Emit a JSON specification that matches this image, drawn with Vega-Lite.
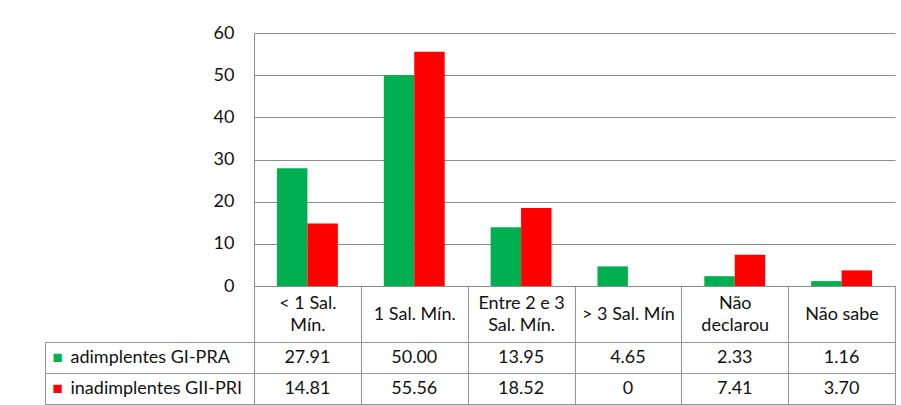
{
  "$schema": "https://vega.github.io/schema/vega-lite/v6.json",
  "background": "white",
  "padding": {"left": 44, "top": 24, "right": 6, "bottom": 0},
  "bounds": "flush",
  "spacing": 56,
  "config": {
    "font": "Lato",
    "view": {"stroke": null},
    "axis": {"labelFont": "Lato", "labelColor": "#111111", "labelFontSize": 18, "titleFont": "Lato"}
  },
  "resolve": {"scale": {"x": "independent", "y": "independent"}},
  "data": {
    "values": [
      {"cat": "< 1 Sal. Mín.", "serie": "adimplentes GI-PRA", "value": 27.91, "txt": "27.91"},
      {"cat": "1 Sal. Mín.", "serie": "adimplentes GI-PRA", "value": 50.0, "txt": "50.00"},
      {"cat": "Entre 2 e 3 Sal. Mín.", "serie": "adimplentes GI-PRA", "value": 13.95, "txt": "13.95"},
      {"cat": "> 3 Sal. Mín", "serie": "adimplentes GI-PRA", "value": 4.65, "txt": "4.65"},
      {"cat": "Não declarou", "serie": "adimplentes GI-PRA", "value": 2.33, "txt": "2.33"},
      {"cat": "Não sabe", "serie": "adimplentes GI-PRA", "value": 1.16, "txt": "1.16"},
      {"cat": "< 1 Sal. Mín.", "serie": "inadimplentes GII-PRI", "value": 14.81, "txt": "14.81"},
      {"cat": "1 Sal. Mín.", "serie": "inadimplentes GII-PRI", "value": 55.56, "txt": "55.56"},
      {"cat": "Entre 2 e 3 Sal. Mín.", "serie": "inadimplentes GII-PRI", "value": 18.52, "txt": "18.52"},
      {"cat": "> 3 Sal. Mín", "serie": "inadimplentes GII-PRI", "value": 0, "txt": "0"},
      {"cat": "Não declarou", "serie": "inadimplentes GII-PRI", "value": 7.41, "txt": "7.41"},
      {"cat": "Não sabe", "serie": "inadimplentes GII-PRI", "value": 3.7, "txt": "3.70"}
    ]
  },
  "vconcat": [
    {
      "width": 641,
      "height": 253,
      "mark": {"type": "bar"},
      "encoding": {
        "x": {
          "field": "cat", "type": "nominal",
          "sort": ["< 1 Sal. Mín.", "1 Sal. Mín.", "Entre 2 e 3 Sal. Mín.", "> 3 Sal. Mín", "Não declarou", "Não sabe"],
          "scale": {"paddingInner": 0, "paddingOuter": 0},
          "axis": {
            "title": null, "labelAngle": 0, "domain": true, "domainColor": "#8c8c8c",
            "ticks": true, "tickBand": "extent", "tickSize": 56, "tickColor": "#959595",
            "labelPadding": {"condition": {"test": "indexof(['< 1 Sal. Mín.', 'Entre 2 e 3 Sal. Mín.', 'Não declarou'], datum.value) >= 0", "value": -39}, "value": -28},
            "labelBaseline": "middle", "labelLimit": 0, "labelLineHeight": 22,
            "labelExpr": "datum.value == '< 1 Sal. Mín.' ? ['< 1 Sal.', 'Mín.'] : datum.value == 'Entre 2 e 3 Sal. Mín.' ? ['Entre 2 e 3', 'Sal. Mín.'] : datum.value == 'Não declarou' ? ['Não', 'declarou'] : datum.label"
          }
        },
        "xOffset": {
          "field": "serie", "type": "nominal",
          "sort": ["adimplentes GI-PRA", "inadimplentes GII-PRI"],
          "scale": {"paddingInner": 0, "paddingOuter": 0.754}
        },
        "y": {
          "field": "value", "type": "quantitative",
          "scale": {"domain": [0, 60], "nice": false},
          "axis": {
            "title": null, "values": [0, 10, 20, 30, 40, 50, 60], "grid": true, "gridColor": "#8c8c8c",
            "domain": true, "domainColor": "#8c8c8c", "ticks": false, "labelPadding": 20
          }
        },
        "color": {
          "field": "serie", "type": "nominal",
          "scale": {"domain": ["adimplentes GI-PRA", "inadimplentes GII-PRI"], "range": ["#00B050", "#FF0000"]},
          "legend": null
        }
      }
    },
    {
      "width": 641,
      "height": 62,
      "resolve": {"scale": {"y": "independent"}, "axis": {"y": "independent"}},
      "layer": [
        {
          "mark": {"type": "text", "font": "Lato", "fontSize": 18, "color": "#111111", "baseline": "middle"},
          "encoding": {
            "x": {
              "field": "cat", "type": "nominal",
              "sort": ["< 1 Sal. Mín.", "1 Sal. Mín.", "Entre 2 e 3 Sal. Mín.", "> 3 Sal. Mín", "Não declarou", "Não sabe"],
              "scale": {"paddingInner": 0, "paddingOuter": 0},
              "axis": {"orient": "top", "title": null, "labels": false, "ticks": false, "domain": false, "grid": true, "gridColor": "#959595", "tickBand": "extent"}
            },
            "y": {
              "field": "serie", "type": "nominal",
              "sort": ["adimplentes GI-PRA", "inadimplentes GII-PRI"],
              "scale": {"paddingInner": 0, "paddingOuter": 0},
              "axis": {
                "title": null, "grid": true, "gridColor": "#959595", "tickBand": "extent",
                "ticks": true, "tickSize": 209, "tickColor": "#959595", "domain": false,
                "labelAlign": "left", "labelPadding": -25, "labelBaseline": "middle", "labelLimit": 0
              }
            },
            "text": {"field": "txt"}
          }
        },
        {
          "mark": {"type": "text", "opacity": 0},
          "encoding": {
            "y": {
              "field": "serie", "type": "nominal",
              "sort": ["adimplentes GI-PRA", "inadimplentes GII-PRI"],
              "scale": {"paddingInner": 0, "paddingOuter": 0},
              "axis": {
                "orient": "left", "offset": 209, "title": null, "grid": false, "ticks": false,
                "domain": true, "domainColor": "#959595",
                "labelExpr": "'■'", "labelAlign": "left", "labelPadding": -7, "labelBaseline": "middle", "labelFontSize": 17,
                "labelColor": {"condition": {"test": "datum.value == 'adimplentes GI-PRA'", "value": "#00B050"}, "value": "#FF0000"}
              }
            },
            "text": {"value": ""}
          }
        }
      ]
    }
  ]
}
